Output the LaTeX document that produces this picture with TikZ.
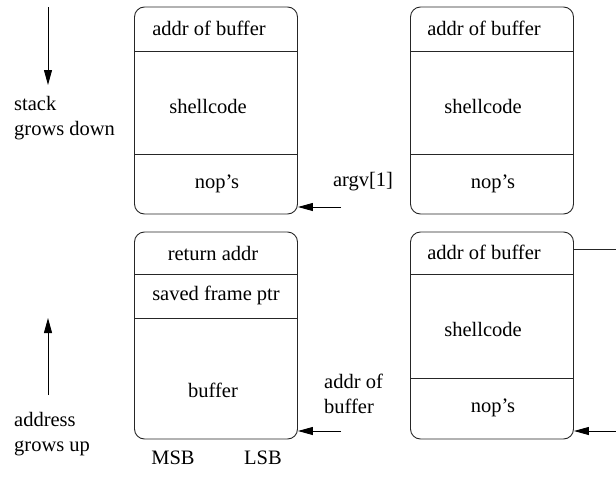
\documentclass[tikz,border=0pt]{standalone}
\usepackage{fontspec}
\setmainfont{Liberation Serif}
\usetikzlibrary{arrows.meta}
\begin{document}
\begin{tikzpicture}[x=1pt,y=-1pt,
  membox/.style={draw=black!85,line width=0.9pt,rounded corners=10pt,minimum width=163pt,inner sep=0pt},
  divl/.style={draw=black!85,line width=0.9pt},
  lbl/.style={font=\fontsize{20.5}{24}\selectfont,inner sep=0pt},
  side/.style={font=\fontsize{20.5}{25.5}\selectfont,inner sep=0pt,align=left,anchor=west},
  arr/.style={draw=black,line width=0.9pt,-{Triangle[length=15pt,width=8pt]}}]
\useasboundingbox (0,0) rectangle (616,477);
% boxes
\node[membox,minimum height=207pt] (b1) at (216,110.5) {};
\node[membox,minimum height=207pt] (b2) at (492,110.5) {};
\node[membox,minimum height=207pt] (b3) at (216,335.5) {};
\node[membox,minimum height=207pt] (b4) at (492,335.5) {};
% dividers
\draw[divl] (b1.west|-0,51) -- (b1.east|-0,51);
\draw[divl] (b1.west|-0,154) -- (b1.east|-0,154);
\draw[divl] (b2.west|-0,51) -- (b2.east|-0,51);
\draw[divl] (b2.west|-0,154) -- (b2.east|-0,154);
\draw[divl] (b3.west|-0,274) -- (b3.east|-0,274);
\draw[divl] (b3.west|-0,318) -- (b3.east|-0,318);
\draw[divl] (b4.west|-0,274) -- (b4.east|-0,274);
\draw[divl] (b4.west|-0,378) -- (b4.east|-0,378);
% box texts
\node[lbl] (t1a) at (209,28) {addr of buffer};
\node[lbl] (t1b) at (208,106) {shellcode};
\node[lbl] (t1c) at (217,184) {nop's};
\node[lbl] (t2a) at (484,28) {addr of buffer};
\node[lbl] (t2b) at (483,106) {shellcode};
\node[lbl] (t2c) at (493,184) {nop's};
\node[lbl] (t3a) at (213,253) {return addr};
\node[lbl] (t3b) at (216,295) {saved frame ptr};
\node[lbl] (t3c) at (213,390) {buffer};
\node[lbl] (t4a) at (484,252) {addr of buffer};
\node[lbl] (t4b) at (483,329) {shellcode};
\node[lbl] (t4c) at (493,408) {nop's};
% side labels
\node[side] (stk) at (14,118) {stack\\grows down};
\node[side] (adr) at (14,434) {address\\grows up};
\node[lbl] (msb) at (173,458) {MSB};
\node[lbl] (lsb) at (263,458) {LSB};
\node[lbl] (argv) at (363,182) {argv[1]};
\node[side] (aob) at (324,394) {addr of\\buffer};
% vertical arrows
\coordinate (d1) at (48,7);
\coordinate (d2) at (48,85);
\draw[arr] (d1) -- (d2);
\coordinate (u1) at (48,395);
\coordinate (u2) at (48,318);
\draw[arr] (u1) -- (u2);
% pointer arrows
\coordinate (a1) at (341,207);
\draw[arr] (a1) -- (b1.east|-a1);
\coordinate (a2) at (341,431);
\draw[arr] (a2) -- (b3.east|-a2);
\coordinate (a3) at (616,431);
\draw[arr] (a3) -- (b4.east|-a3);
\coordinate (a4) at (616,249);
\draw[divl] (b4.east|-a4) -- (a4);
\end{tikzpicture}
\end{document}
